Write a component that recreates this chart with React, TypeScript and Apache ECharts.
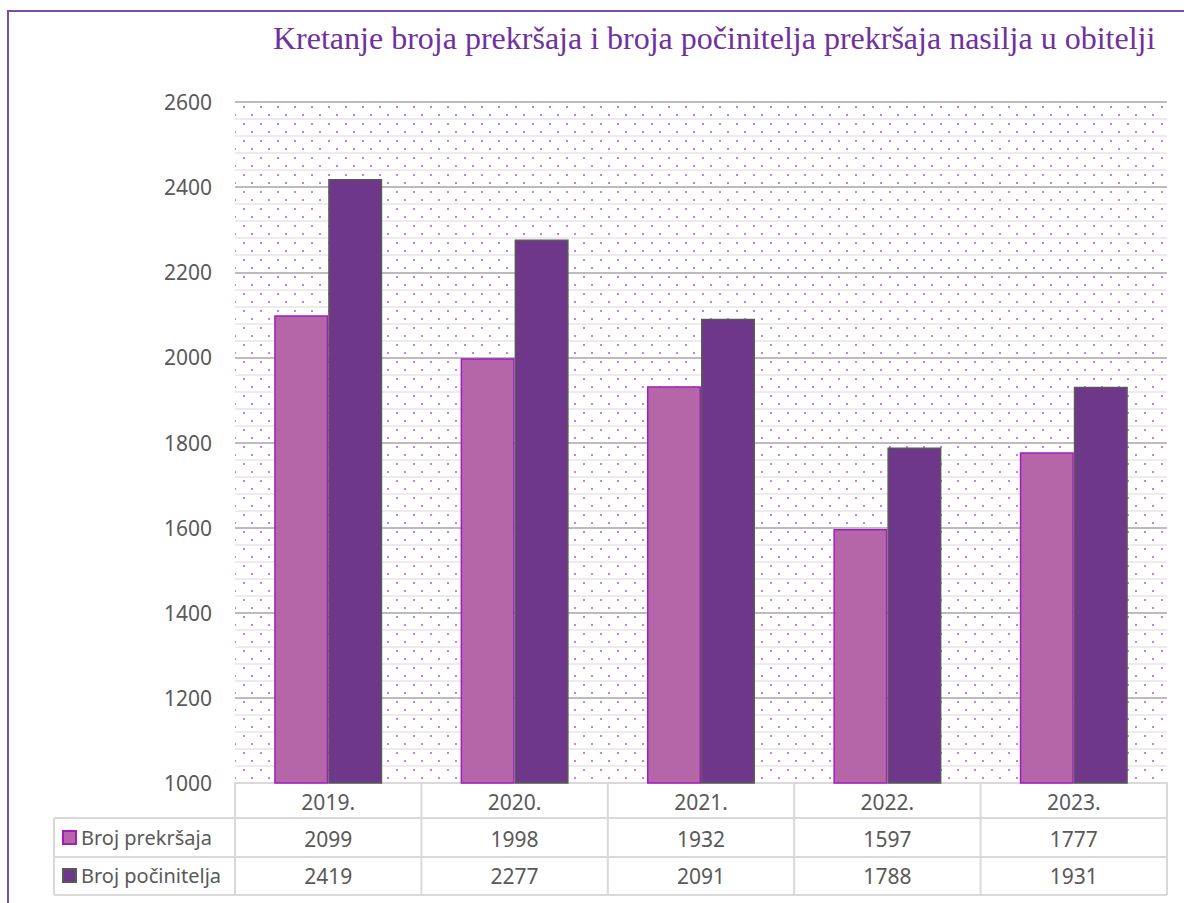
import React, { useEffect, useRef } from "react";
import * as echarts from "echarts";

const years = ["2019.", "2020.", "2021.", "2022.", "2023."];
const prekrsaja = [2099, 1998, 1932, 1597, 1777];
const pocinitelja = [2419, 2277, 2091, 1788, 1931];
const seriesNames = ["Broj prekršaja", "Broj počinitelja"];
const yMin = 1000;
const yMax = 2600;
const yInterval = 200;

const GRID_L = 235;
const GRID_R = 1167;
const GRID_T = 102;
const GRID_B = 783;
const ROW1 = 818;
const ROW2 = 857;
const ROW3 = 895;
const TABLE_L = 54;

function makeDotPattern() {
  const c = document.createElement("canvas");
  c.width = 17;
  c.height = 17;
  const ctx = c.getContext("2d")!;
  ctx.fillStyle = "#ffffff";
  ctx.fillRect(0, 0, 17, 17);
  ctx.fillStyle = "#c27cff";
  ctx.fillRect(5, 4, 2, 2);
  ctx.fillRect(13, 12, 2, 2);
  return c;
}

export default function App() {
  const ref = useRef<HTMLDivElement>(null);
  useEffect(() => {
    if (!ref.current) return;
    const chart = echarts.init(ref.current, null, { renderer: "svg" });
    const font = "'Noto Sans', 'Liberation Sans', Arial, sans-serif";
    const fs = 21;
    const textColor = "#595959";
    const tableColor = "#d9d9d9";
    const colW = (GRID_R - GRID_L) / years.length;

    const lines: any[] = [];
    const addLine = (x1: number, y1: number, x2: number, y2: number) =>
      lines.push({
        type: "line",
        shape: { x1, y1, x2, y2 },
        style: { stroke: tableColor, lineWidth: 2 },
        z: 10,
      });
    for (let i = 0; i <= years.length; i++) {
      const x = GRID_L + i * colW;
      addLine(x, GRID_B, x, ROW3);
    }
    addLine(TABLE_L, ROW1, TABLE_L, ROW3);
    addLine(TABLE_L, ROW1, GRID_R, ROW1);
    addLine(TABLE_L, ROW2, GRID_R, ROW2);
    addLine(TABLE_L, ROW3, GRID_R, ROW3);

    chart.setOption({
      animation: false,
      backgroundColor: "#ffffff",
      title: {
        text: "Kretanje broja prekršaja i broja počinitelja prekršaja nasilja u obitelji",
        left: 268,
        top: 17,
        textStyle: {
          fontFamily: "'Liberation Serif', 'Times New Roman', serif",
          fontWeight: "normal",
          fontSize: 32,
          color: "#7030a0",
        },
      },
      legend: {
        orient: "vertical",
        left: 57,
        top: 822,
        itemWidth: 13,
        itemHeight: 13,
        itemGap: 17,
        itemTextGap: 5,
        icon: "rect",
        data: seriesNames,
        textStyle: { fontFamily: font, fontSize: 20, color: textColor, lineHeight: 21 },
      },
      grid: {
        left: GRID_L,
        right: 1184 - GRID_R,
        top: GRID_T,
        bottom: 903 - GRID_B,
        show: true,
        borderWidth: 0,
        backgroundColor: { image: makeDotPattern(), repeat: "repeat" },
      },
      xAxis: {
        type: "category",
        data: years,
        axisLine: { show: true, lineStyle: { color: tableColor, width: 2 } },
        axisTick: { show: false },
        axisLabel: {
          margin: 0,
          formatter: (value: string, index: number) =>
            `{h|${value}}\n{v|${prekrsaja[index]}}\n{v|${pocinitelja[index]}}`,
          rich: {
            h: { fontFamily: font, fontSize: fs, color: textColor, lineHeight: 37 },
            v: { fontFamily: font, fontSize: fs, color: textColor, lineHeight: 37 },
          },
        },
      },
      yAxis: {
        type: "value",
        min: yMin,
        max: yMax,
        interval: yInterval,
        axisLine: { show: false },
        axisTick: { show: false },
        axisLabel: {
          fontFamily: font,
          fontSize: fs,
          color: textColor,
          margin: 23,
          formatter: (v: number) => String(v),
        },
        splitLine: { show: true, lineStyle: { color: "#a6a6a6", width: 1.5 } },
        minorTick: { show: false, splitNumber: 5 },
        minorSplitLine: { show: true, lineStyle: { color: "#ececec", width: 2 } },
      },
      series: [
        {
          name: seriesNames[0],
          type: "bar",
          data: prekrsaja,
          barWidth: 54,
          barGap: "0%",
          itemStyle: { color: "#b566a8", borderColor: "#a21cbf", borderWidth: 1.5 },
        },
        {
          name: seriesNames[1],
          type: "bar",
          data: pocinitelja,
          barWidth: 54,
          barGap: "0%",
          itemStyle: { color: "#6e3789", borderColor: "#595959", borderWidth: 1.5 },
        },
      ],
      graphic: [
        {
          type: "rect",
          shape: { x: 8, y: 11, width: 1300, height: 1000 },
          style: { fill: "none", stroke: "#7b4ea3", lineWidth: 2 },
          z: 10,
          silent: true,
        },
        ...lines,
      ],
    });
    return () => chart.dispose();
  }, []);
  return (
    <div
      ref={ref}
      style={{ position: "fixed", left: 0, top: 0, width: 1184, height: 903 }}
    />
  );
}
